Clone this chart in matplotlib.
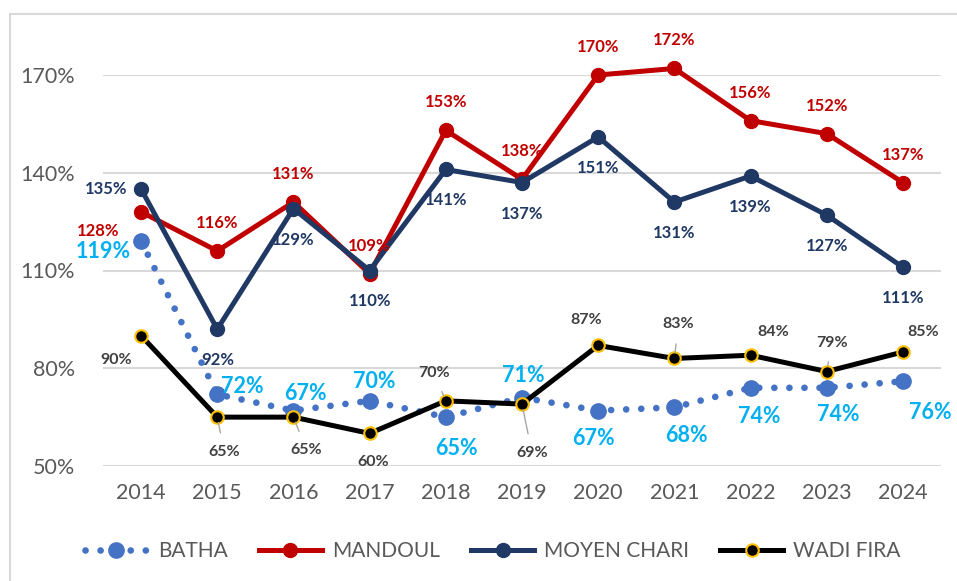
import numpy as np
import matplotlib
matplotlib.use("Agg")
import matplotlib.pyplot as plt
from matplotlib.lines import Line2D

plt.rcParams['font.family'] = ['Lato', 'DejaVu Sans']

years = ['2014', '2015', '2016', '2017', '2018', '2019', '2020', '2021', '2022', '2023', '2024']
batha = [119, 72, 67, 70, 65, 71, 67, 68, 74, 74, 76]
mandoul = [128, 116, 131, 109, 153, 138, 170, 172, 156, 152, 137]
moyen_chari = [135, 92, 129, 110, 141, 137, 151, 131, 139, 127, 111]
wadi_fira = [90, 65, 65, 60, 70, 69, 87, 83, 84, 79, 85]

# label offsets in pixels (dx, dy)
off_batha = [(-38, -10), (25, 8), (12, 17), (5, 19), (11, -31), (1, 22),
             (-5, -28), (12, -28), (9, -29), (12, -27), (27, -31)]
off_mandoul = [(-43, -19)] + [(0, 28)] * 10
off_moyen = [(-35, 0)] + [(0, -31)] * 10
off_wadi = [(-25, -24), (7, -35), (13, -33), (4, -29), (-12, 28), (10, -49),
            (-12, 25), (4, 34), (23, 23), (5, 29), (20, 20)]
leader_wadi = [False, True, True, False, True, True, False, True, False, True, False]

c_batha = '#4472C4'
c_batha_lbl = '#00B0F0'
c_mandoul = '#C00000'
c_moyen = '#203864'
c_wadi_lbl = '#404040'
c_gold = '#FFC000'

fig = plt.figure(figsize=(9.57, 5.81), dpi=100)
ax = fig.add_axes([103 / 957, 1 - 466 / 581, 838 / 957, 391 / 581])

x = np.arange(len(years))

dot_style = (0, (0.01, 2.25))
ax.plot(x, batha, color=c_batha, lw=4.8, linestyle=dot_style, dash_capstyle='round',
        marker='o', ms=11, zorder=2, clip_on=False)
ax.plot(x, mandoul, color=c_mandoul, lw=3.6, marker='o', ms=10, zorder=3, clip_on=False)
ax.plot(x, moyen_chari, color=c_moyen, lw=3.6, marker='o', ms=10, zorder=4, clip_on=False)
ax.plot(x, wadi_fira, color='black', lw=3.6, marker='o', ms=9, mfc='black',
        mec=c_gold, mew=1.5, zorder=5, clip_on=False)

def labels(vals, offs, color, size, leaders=None):
    for i, (v, o) in enumerate(zip(vals, offs)):
        props = None
        if leaders is not None and leaders[i]:
            props = dict(arrowstyle='-', color='#A6A6A6', lw=1, shrinkA=7, shrinkB=4)
        ax.annotate(f'{v}%', (i, v), xytext=o, textcoords='offset pixels',
                    ha='center', va='center', color=color, fontsize=size,
                    fontweight='bold', arrowprops=props, zorder=6, annotation_clip=False)

labels(mandoul, off_mandoul, c_mandoul, 12)
labels(moyen_chari, off_moyen, c_moyen, 12)
labels(wadi_fira, off_wadi, c_wadi_lbl, 11.5, leader_wadi)
labels(batha, off_batha, c_batha_lbl, 15.5)

ax.set_xlim(-0.5, 10.5)
ax.set_ylim(50, 170)
ax.set_yticks([50, 80, 110, 140, 170])
ax.set_yticklabels([f'{t}%' for t in [50, 80, 110, 140, 170]])
ax.set_xticks(x)
ax.set_xticklabels(years)
ax.tick_params(length=0, labelsize=15.5, colors='#595959', pad=12)
ax.tick_params(axis='y', pad=20)
ax.grid(axis='y', color='#D9D9D9', lw=1.5)
ax.set_axisbelow(True)
for s in ax.spines.values():
    s.set_visible(False)

# outer chart frame
fig.add_artist(Line2D([10 / 957, 1], [1 - 14 / 581] * 2, color='#D9D9D9', lw=1.5))
fig.add_artist(Line2D([10 / 957] * 2, [0, 1 - 14 / 581], color='#D9D9D9', lw=1.5))

handles = [
    Line2D([], [], color=c_batha, lw=4.8, linestyle=dot_style, dash_capstyle='round',
           marker='o', ms=11),
    Line2D([], [], color=c_mandoul, lw=3.6, marker='o', ms=10),
    Line2D([], [], color=c_moyen, lw=3.6, marker='o', ms=10),
    Line2D([], [], color='black', lw=3.6, marker='o', ms=9, mfc='black', mec=c_gold, mew=1.5),
]
leg = fig.legend(handles, ['BATHA', 'MANDOUL', 'MOYEN CHARI', 'WADI FIRA'],
                 loc='center', bbox_to_anchor=(493 / 957, 1 - 551 / 581), ncol=4, frameon=False,
                 fontsize=15, handlelength=3.0, columnspacing=1.5, handletextpad=0.5)
for t in leg.get_texts():
    t.set_color('#595959')

fig.savefig('out.png', dpi=100)
